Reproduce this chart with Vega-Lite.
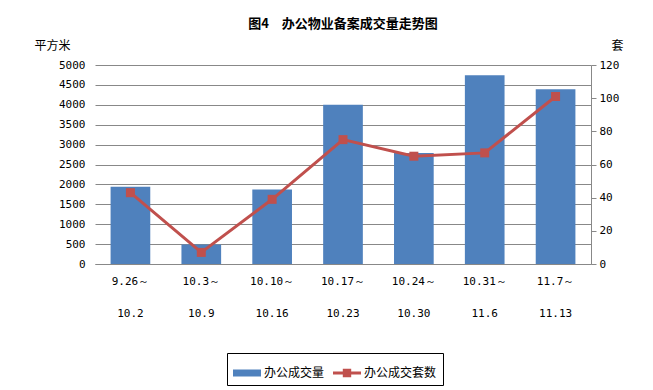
{
  "$schema": "https://vega.github.io/schema/vega-lite/v6.json",
  "width": 496,
  "height": 199,
  "autosize": {"type": "none"},
  "padding": {"left": 95, "top": 65, "right": 62, "bottom": 126},
  "background": "white",
  "title": {
    "text": "图4\u3000办公物业备案成交量走势图",
    "font": "Noto Sans CJK SC",
    "fontSize": 13,
    "fontWeight": "bold",
    "color": "black",
    "anchor": "middle",
    "offset": 8
  },
  "data": {
    "values": [
      {"week": "9.26～ 10.2", "area": 1940, "units": 43},
      {"week": "10.3～ 10.9", "area": 490, "units": 7},
      {"week": "10.10～ 10.16", "area": 1870, "units": 39},
      {"week": "10.17～ 10.23", "area": 4000, "units": 75},
      {"week": "10.24～ 10.30", "area": 2790, "units": 65},
      {"week": "10.31～ 11.6", "area": 4740, "units": 67},
      {"week": "11.7～ 11.13", "area": 4390, "units": 101}
    ]
  },
  "encoding": {
    "x": {
      "field": "week",
      "type": "nominal",
      "sort": null,
      "scale": {"paddingInner": 0.44, "paddingOuter": 0.22},
      "axis": {
        "title": null,
        "labelAngle": 0,
        "labelExpr": "split(datum.label, ' ')",
        "labelLineHeight": 32,
        "labelFont": "DejaVu Sans Mono",
        "labelFontSize": 11,
        "labelColor": "black",
        "labelPadding": 11,
        "labelBaseline": "top",
        "ticks": false,
        "domain": true,
        "domainColor": "#888888",
        "grid": false
      }
    }
  },
  "layer": [
    {
      "mark": {"type": "bar"},
      "encoding": {
        "y": {
          "field": "area",
          "type": "quantitative",
          "scale": {"domain": [0, 5000], "nice": false},
          "axis": {
            "orient": "left",
            "values": [0, 500, 1000, 1500, 2000, 2500, 3000, 3500, 4000, 4500, 5000],
            "format": "d",
            "domain": false,
            "ticks": false,
            "grid": true,
            "gridColor": "#888888",
            "gridWidth": 1,
            "labelFont": "DejaVu Sans Mono",
            "labelFontSize": 11,
            "labelColor": "black",
            "labelPadding": 10,
            "title": "平方米",
            "titleFont": "Noto Sans CJK SC",
            "titleFontSize": 12,
            "titleFontWeight": "normal",
            "titleColor": "black",
            "titleAngle": 0,
            "titleAlign": "center",
            "titleBaseline": "middle",
            "titleX": -43,
            "titleY": -20
          }
        },
        "color": {
          "datum": "办公成交量",
          "type": "nominal",
          "scale": {"domain": ["办公成交量", "办公成交套数"], "range": ["#4F81BD", "#C0504D"]},
          "legend": {
            "orient": "none",
            "legendX": 132,
            "legendY": 288,
            "direction": "horizontal",
            "title": null,
            "strokeColor": "black",
            "padding": 6,
            "columnPadding": 8,
            "labelOffset": 3,
            "labelFont": "Noto Sans CJK SC",
            "labelFontSize": 12,
            "labelColor": "black",
            "symbolSize": 784,
            "encode": {
              "symbols": {
                "update": {
                  "shape": {"signal": "datum.value === '办公成交量' ? 'M-1,-0.25H1V0.25H-1Z' : 'M-1,-0.1H1V0.1H-1Z M-0.3,-0.3H0.3V0.3H-0.3Z'"},
                  "fill": {"signal": "scale('color', datum.value)"},
                  "stroke": {"value": "transparent"},
                  "strokeWidth": {"value": 0},
                  "opacity": {"value": 1},
                  "size": {"value": 784}
                }
              }
            }
          }
        }
      }
    },
    {
      "mark": {
        "type": "line",
        "strokeWidth": 3,
        "point": {"shape": "square", "size": 81, "filled": true, "opacity": 1}
      },
      "encoding": {
        "y": {
          "field": "units",
          "type": "quantitative",
          "scale": {"domain": [0, 120], "nice": false},
          "axis": {
            "orient": "right",
            "values": [0, 20, 40, 60, 80, 100, 120],
            "format": "d",
            "domain": true,
            "domainColor": "#888888",
            "ticks": true,
            "tickColor": "#888888",
            "tickSize": 5,
            "grid": false,
            "labelFont": "DejaVu Sans Mono",
            "labelFontSize": 11,
            "labelColor": "black",
            "labelPadding": 3,
            "title": "套",
            "titleFont": "Noto Sans CJK SC",
            "titleFontSize": 12,
            "titleFontWeight": "normal",
            "titleColor": "black",
            "titleAngle": 0,
            "titleAlign": "center",
            "titleBaseline": "middle",
            "titleX": 26,
            "titleY": -20
          }
        },
        "color": {"datum": "办公成交套数", "type": "nominal"}
      }
    }
  ],
  "resolve": {"scale": {"y": "independent"}},
  "config": {
    "view": {"stroke": null}
  }
}
